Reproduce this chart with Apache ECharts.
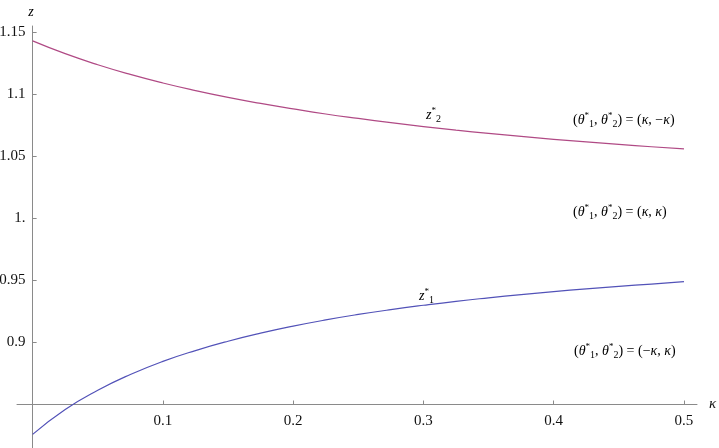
<!DOCTYPE html>
<html>
<head>
<meta charset="utf-8">
<script src="https://cdn.jsdelivr.net/npm/echarts@6/dist/echarts.min.js"></script>
<style>
  html, body { margin: 0; padding: 0; background: #fff; }
  #chart { width: 719px; height: 448px; }
</style>
</head>
<body>
<div id="chart"></div>
<script>
// kappa grid and curve values
const kappa = [0, 0.025, 0.05, 0.075, 0.1, 0.125, 0.15, 0.175, 0.2, 0.225, 0.25,
  0.275, 0.3, 0.325, 0.35, 0.375, 0.4, 0.425, 0.45, 0.475, 0.5]
const z2 = [1.143, 1.1327, 1.1238, 1.116, 1.1091, 1.103, 1.0975, 1.0926, 1.0882, 1.0841, 1.0805,
  1.0771, 1.074, 1.0711, 1.0685, 1.066, 1.0637, 1.0616, 1.0596, 1.0577, 1.056]
const z1 = [0.826, 0.846, 0.8615, 0.8742, 0.8848, 0.8935, 0.901, 0.9075, 0.9132, 0.9182, 0.9226,
  0.9265, 0.93, 0.9332, 0.936, 0.9386, 0.941, 0.9432, 0.9452, 0.9471, 0.949]
const xTicks = [0, 0.1, 0.2, 0.3, 0.4, 0.5]
const xTickLabels = [0.1, 0.2, 0.3, 0.4, 0.5]
const yTicks = [0.85, 0.9, 0.95, 1, 1.05, 1.1, 1.15]
const yTickLabels = [0.9, 0.95, 1, 1.05, 1.1, 1.15]

const serif = "'Liberation Serif', 'DejaVu Serif', serif"
const axisGray = '#8a8a8a'

const rich = {
  n: { fontFamily: serif, fontSize: 14, lineHeight: 18, color: '#111' },
  it: { fontFamily: serif, fontSize: 14, fontStyle: 'italic', lineHeight: 18, color: '#111' },
  sup: { fontFamily: serif, fontSize: 9, lineHeight: 10, verticalAlign: 'top', color: '#111' },
  sub: { fontFamily: serif, fontSize: 10, lineHeight: 10, verticalAlign: 'bottom', color: '#111' }
}
const theta = '{n|(}{it|θ}{sup|*}{sub|1}{n|, }{it|θ}{sup|*}{sub|2}{n|) = }'

function note(x, y, text, align) {
  return { type: 'text', x, y, style: { text, rich, align: align || 'left', verticalAlign: 'middle' } }
}

const chart = echarts.init(document.getElementById('chart'))
chart.setOption({
  animation: false,
  grid: { left: 17, right: 22, top: 26, bottom: 0, outerBoundsMode: 'none' },
  xAxis: {
    type: 'value',
    min: -0.012,
    max: 0.51,
    offset: -43.5,
    name: 'κ',
    nameLocation: 'end',
    nameGap: 12,
    nameMoveOverlap: false,
    nameTextStyle: { fontFamily: serif, fontSize: 15, fontStyle: 'italic', color: '#111', verticalAlign: 'middle' },
    axisLine: { lineStyle: { color: axisGray, width: 1 } },
    axisTick: { inside: true, length: 4, customValues: xTicks, lineStyle: { color: axisGray } },
    axisLabel: {
      customValues: xTickLabels,
      margin: 9,
      fontFamily: serif, fontSize: 15, color: '#111',
      formatter: v => String(+v.toFixed(2))
    },
    splitLine: { show: false }
  },
  yAxis: {
    type: 'value',
    min: 0.815,
    max: 1.155,
    axisLine: { onZero: true, lineStyle: { color: axisGray, width: 1 } },
    axisTick: { inside: true, length: 4, customValues: yTicks, lineStyle: { color: axisGray } },
    axisLabel: {
      customValues: yTickLabels,
      // labels stay at the grid edge when the line sits on zero, so pull them right
      margin: -8.5,
      fontFamily: serif, fontSize: 15, color: '#111',
      formatter: v => Math.abs(v - 1) < 1e-9 ? '1.' : String(+v.toFixed(2))
    },
    splitLine: { show: false }
  },
  series: [
    {
      name: 'z2*',
      type: 'line',
      data: kappa.map((k, i) => [k, z2[i]]),
      showSymbol: false,
      smooth: true,
      lineStyle: { color: '#b04a85', width: 1.2 }
    },
    {
      name: 'z1*',
      type: 'line',
      data: kappa.map((k, i) => [k, z1[i]]),
      showSymbol: false,
      smooth: true,
      lineStyle: { color: '#5252b8', width: 1.2 }
    }
  ],
  graphic: [
    note(31, 12, '{it|z}', 'center'),
    note(573, 120, theta + '{n|(}{it|κ}{n|, −}{it|κ}{n|)}'),
    note(573, 212, theta + '{n|(}{it|κ}{n|, }{it|κ}{n|)}'),
    note(574, 351, theta + '{n|(−}{it|κ}{n|, }{it|κ}{n|)}'),
    note(426, 115, '{it|z}{sup|*}{sub|2}'),
    note(419, 296, '{it|z}{sup|*}{sub|1}')
  ]
})
</script>
</body>
</html>
